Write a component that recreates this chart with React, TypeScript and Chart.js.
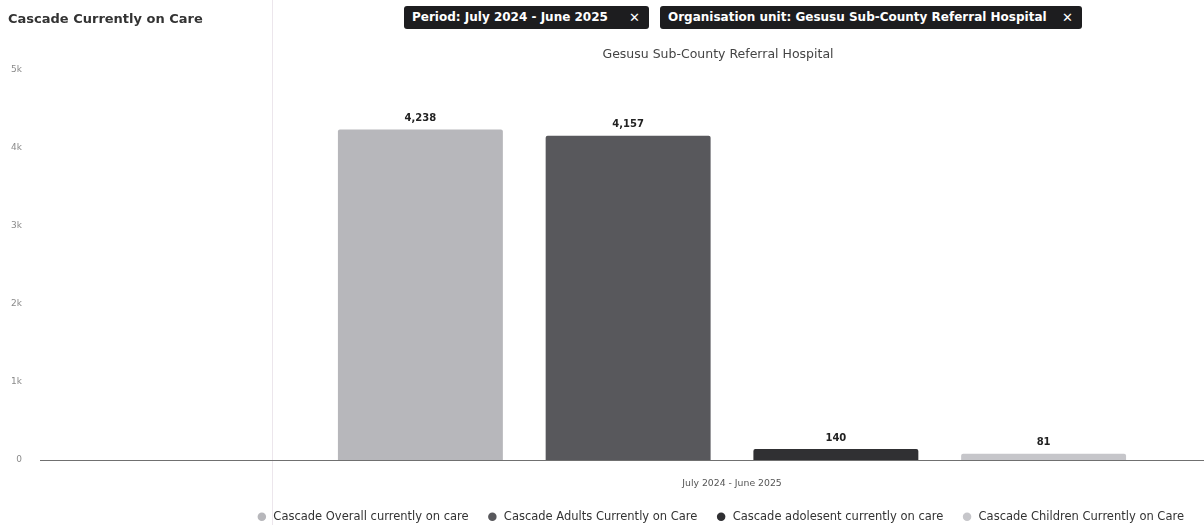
import React, { useEffect, useRef } from "react";
import { Chart, registerables } from "chart.js";

Chart.register(...registerables);

const categories = ["July 2024 - June 2025"];
const seriesNames = [
  "Cascade Overall currently on care",
  "Cascade Adults Currently on Care",
  "Cascade adolesent currently on care",
  "Cascade Children Currently on Care",
];
const overallValues = [4238];
const adultsValues = [4157];
const adolescentValues = [140];
const childrenValues = [81];
const seriesColors = ["#b7b7bb", "#58585c", "#303033", "#c6c6ca"];
const yTicks = [0, 1000, 2000, 3000, 4000, 5000];
const yTickLabels = ["0", "1k", "2k", "3k", "4k", "5k"];

const FONT = "'DejaVu Sans', Verdana, sans-serif";

const valueLabelPlugin = {
  id: "valueLabels",
  afterDatasetsDraw(chart: any) {
    const ctx = chart.ctx;
    ctx.save();
    ctx.font = `bold 10px ${FONT}`;
    ctx.fillStyle = "#222";
    ctx.textAlign = "center";
    ctx.textBaseline = "bottom";
    chart.data.datasets.forEach((ds: any, i: number) => {
      const meta = chart.getDatasetMeta(i);
      meta.data.forEach((el: any, j: number) => {
        const v = ds.data[j];
        ctx.fillText(v.toLocaleString("en-US"), el.x, el.y - 6);
      });
    });
    ctx.restore();
  },
};

const axisPlugin = {
  id: "axisDecor",
  afterDatasetsDraw(chart: any) {
    const ctx = chart.ctx;
    const ys = chart.scales.y;
    const y0 = ys.getPixelForValue(0);
    ctx.save();
    ctx.strokeStyle = "#707070";
    ctx.lineWidth = 1;
    ctx.beginPath();
    ctx.moveTo(40, Math.round(y0) + 0.5);
    ctx.lineTo(chart.width, Math.round(y0) + 0.5);
    ctx.stroke();
    ctx.font = `9px ${FONT}`;
    ctx.fillStyle = "#8a8a8a";
    ctx.textAlign = "right";
    ctx.textBaseline = "middle";
    ys.ticks.forEach((t: any) => {
      const idx = yTicks.indexOf(t.value);
      if (idx >= 0) ctx.fillText(yTickLabels[idx], 22, ys.getPixelForValue(t.value));
    });
    ctx.restore();
  },
};

export default function App() {
  const ref = useRef<HTMLCanvasElement | null>(null);
  useEffect(() => {
    if (!ref.current) return;
    const data = [overallValues, adultsValues, adolescentValues, childrenValues];
    const chart = new Chart(ref.current, {
      type: "bar",
      data: {
        labels: categories,
        datasets: seriesNames.map((name, i) => ({
          label: name,
          data: data[i],
          backgroundColor: seriesColors[i],
          borderRadius: 2,
          categoryPercentage: 0.884,
          barPercentage: 0.794,
        })),
      },
      options: {
        animation: false,
        responsive: false,
        layout: { padding: { left: 10, right: 2, top: 70, bottom: 0 } },
        plugins: {
          legend: {
            position: "bottom",
            align: "end",
            maxHeight: 32,
            labels: {
              usePointStyle: true,
              pointStyle: "circle",
              boxWidth: 12,
              boxHeight: 6,
              padding: 18,
              color: "#333",
              font: { family: FONT, size: 11.5 },
            },
          },
          tooltip: { enabled: false },
        },
        scales: {
          x: {
            afterFit: (s: any) => {
              s.height = 33;
            },
            grid: { display: false, drawTicks: false },
            border: { display: false },
            ticks: { color: "#555", font: { family: FONT, size: 9.3 }, padding: 18 },
          },
          y: {
            min: 0,
            max: 5000,
            afterBuildTicks: (s: any) => {
              s.ticks = yTicks.map((v) => ({ value: v }));
            },
            afterFit: (s: any) => {
              s.width = 252;
            },
            grid: { display: false, drawTicks: false },
            border: { display: false },
            ticks: { display: false },
          },
        },
      },
      plugins: [valueLabelPlugin, axisPlugin],
    });
    return () => chart.destroy();
  }, []);

  const chip: React.CSSProperties = {
    position: "absolute",
    top: 6,
    height: 23,
    background: "#1d1d1f",
    color: "#fff",
    borderRadius: 3,
    fontFamily: FONT,
    fontSize: 12,
    fontWeight: 700,
    lineHeight: "23px",
    paddingLeft: 8,
    boxSizing: "border-box",
    whiteSpace: "nowrap",
  };

  return (
    <div style={{ position: "fixed", left: 0, top: 0, width: 1204, height: 525, background: "#fff", overflow: "hidden" }}>
      <div style={{ position: "absolute", left: 272, top: 0, width: 1, height: 525, background: "#ece6ec" }} />
      <canvas ref={ref} width={1204} height={525} style={{ position: "absolute", left: 0, top: 0, width: 1204, height: 525 }} />
      <div style={{ position: "absolute", left: 8, top: 11, fontFamily: FONT, fontSize: 13, fontWeight: 700, color: "#333" }}>
        Cascade Currently on Care
      </div>
      <div style={{ ...chip, left: 404, width: 245 }}>
        Period: July 2024 - June 2025
        <span style={{ position: "absolute", right: 9, fontSize: 13, fontWeight: 400 }}>✕</span>
      </div>
      <div style={{ ...chip, left: 660, width: 422 }}>
        Organisation unit: Gesusu Sub-County Referral Hospital
        <span style={{ position: "absolute", right: 9, fontSize: 13, fontWeight: 400 }}>✕</span>
      </div>
      <div style={{ position: "absolute", left: 518, width: 400, top: 46, textAlign: "center", fontFamily: FONT, fontSize: 12.5, color: "#444" }}>
        Gesusu Sub-County Referral Hospital
      </div>
    </div>
  );
}
